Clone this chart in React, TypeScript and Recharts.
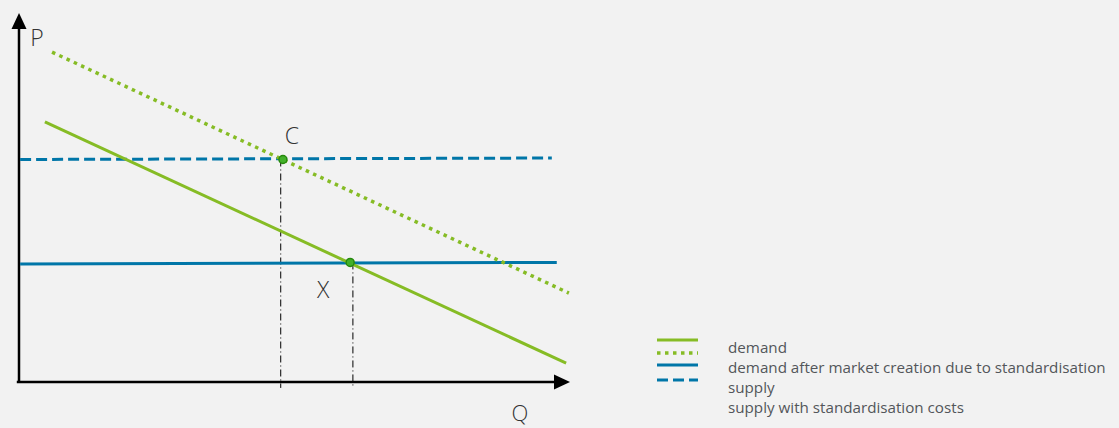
import React from "react";
import {
  ComposedChart,
  Line,
  XAxis,
  YAxis,
  ReferenceDot,
  ReferenceLine,
  Legend,
} from "recharts";

// Q runs 0..100 along the x axis, P runs 0..100 up the y axis
const demand = [
  { q: 4.7, p: 70.5 },
  { q: 99.3, p: 5.1 },
];
const demandAfter = [
  { q: 6.0, p: 89.4 },
  { q: 99.8, p: 24.1 },
];
const supply = [
  { q: 0.2, p: 32.0 },
  { q: 97.6, p: 32.4 },
];
const supplyCost = [
  { q: 0.2, p: 60.3 },
  { q: 96.7, p: 60.7 },
];

const pointC = { q: 47.9, p: 60.3 };
const pointX = { q: 60.1, p: 32.4 };
const dropC = { q: 47.5, from: 60.3, to: -1.6 };
const dropX = { q: 60.6, from: 32.4, to: -1.6 };

const seriesNames = [
  "demand",
  "demand after market creation due to standardisation",
  "supply",
  "supply with standardisation costs",
];

const GREEN = "#86bc25";
const BLUE = "#0076a8";
const FONT = "'Open Sans', 'Noto Sans', sans-serif";

const bigText = (text: string, dx: number, dy: number, size = 23) => (props: any) => {
  const vb = props.viewBox || {};
  const cx = vb.x + (vb.width || 0) / 2;
  const cy = vb.y + (vb.height || 0) / 2;
  return (
    <text
      x={cx + dx}
      y={cy + dy}
      textAnchor="middle"
      dominantBaseline="central"
      fontSize={size}
      fontWeight={300}
      fill="#333"
      fontFamily={FONT}
    >
      {text}
    </text>
  );
};

const upArrow = (props: any) => (
  <polygon
    points={`${props.cx},${props.cy} ${props.cx - 7.5},${props.cy + 16} ${props.cx + 7.5},${props.cy + 16}`}
    fill="#000"
  />
);

const rightArrow = (props: any) => (
  <polygon
    points={`${props.cx},${props.cy} ${props.cx - 16},${props.cy - 7.5} ${props.cx - 16},${props.cy + 7.5}`}
    fill="#000"
  />
);

const LegendBox = (props: any) => {
  const items = [...(props.payload || [])].sort(
    (a: any, b: any) => seriesNames.indexOf(a.value) - seriesNames.indexOf(b.value)
  );
  const iconY = [10, 23, 35, 50];
  return (
    <div style={{ position: "relative", width: 460, height: 90 }}>
      <svg width={45} height={60} style={{ position: "absolute", left: 0, top: 0 }}>
        {items.map((it: any, i: number) => (
          <line
            key={it.value}
            x1={0}
            x2={41}
            y1={iconY[i]}
            y2={iconY[i]}
            stroke={it.color}
            strokeWidth={it.payload?.strokeWidth ?? 3}
            strokeDasharray={it.payload?.strokeDasharray}
          />
        ))}
      </svg>
      <div
        style={{
          position: "absolute",
          left: 71,
          top: 7,
          fontFamily: FONT,
          fontSize: 15.2,
          lineHeight: "20px",
          color: "#53565a",
          whiteSpace: "nowrap",
        }}
      >
        {items.map((it: any) => (
          <div key={it.value}>{it.value}</div>
        ))}
      </div>
    </div>
  );
};

export default function App() {
  return (
    <div
      style={{
        position: "absolute",
        left: 0,
        top: 0,
        width: 1119,
        height: 428,
        background: "#f2f2f2",
      }}
    >
      <ComposedChart
        width={1119}
        height={428}
        margin={{ top: 13, right: 549, bottom: 46, left: 19 }}
      >
        <XAxis
          dataKey="q"
          type="number"
          domain={[0, 100]}
          height={0}
          tick={false}
          tickLine={false}
          axisLine={false}
          allowDataOverflow
        />
        <YAxis
          type="number"
          domain={[0, 100]}
          width={0}
          tick={false}
          tickLine={false}
          axisLine={false}
          allowDataOverflow
        />

        {/* axes */}
        <ReferenceLine
          segment={[
            { x: -0.4, y: 0 },
            { x: 98, y: 0 },
          ]}
          stroke="#000"
          strokeWidth={2.5}
          ifOverflow="visible"
        />
        <ReferenceLine
          segment={[
            { x: 0, y: -0.3 },
            { x: 0, y: 97 },
          ]}
          stroke="#000"
          strokeWidth={2.5}
          ifOverflow="visible"
        />

        <ReferenceLine
          segment={[
            { x: dropC.q, y: dropC.from },
            { x: dropC.q, y: dropC.to },
          ]}
          stroke="#000"
          strokeWidth={1}
          strokeDasharray="7 3 1 3"
          ifOverflow="visible"
        />
        <ReferenceLine
          segment={[
            { x: dropX.q, y: dropX.from },
            { x: dropX.q, y: dropX.to },
          ]}
          stroke="#000"
          strokeWidth={1}
          strokeDasharray="7 3 1 3"
          ifOverflow="visible"
        />

        <Line
          data={supply}
          dataKey="p"
          name={seriesNames[2]}
          type="linear"
          stroke={BLUE}
          strokeWidth={3}
          dot={false}
          activeDot={false}
          isAnimationActive={false}
        />
        <Line
          data={supplyCost}
          dataKey="p"
          name={seriesNames[3]}
          type="linear"
          stroke={BLUE}
          strokeWidth={3}
          strokeDasharray="11 5"
          dot={false}
          activeDot={false}
          isAnimationActive={false}
        />
        <Line
          data={demand}
          dataKey="p"
          name={seriesNames[0]}
          type="linear"
          stroke={GREEN}
          strokeWidth={3}
          dot={false}
          activeDot={false}
          isAnimationActive={false}
        />
        <Line
          data={demandAfter}
          dataKey="p"
          name={seriesNames[1]}
          type="linear"
          stroke={GREEN}
          strokeWidth={3.5}
          strokeDasharray="3.5 4.5"
          dot={false}
          activeDot={false}
          isAnimationActive={false}
        />

        <ReferenceDot
          x={pointC.q}
          y={pointC.p}
          r={4}
          fill="#43b02a"
          stroke="#26890d"
          strokeWidth={1.5}
          ifOverflow="visible"
          label={{ content: bigText("C", 9, -24.5) }}
        />
        <ReferenceDot
          x={pointX.q}
          y={pointX.p}
          r={4}
          fill="#43b02a"
          stroke="#26890d"
          strokeWidth={1.5}
          ifOverflow="visible"
          label={{ content: bigText("X", -27, 26.5) }}
        />

        <ReferenceDot
          x={0}
          y={100}
          r={1}
          ifOverflow="visible"
          shape={upArrow}
          label={{ content: bigText("P", 18, 24) }}
        />
        <ReferenceDot
          x={100}
          y={0}
          r={1}
          ifOverflow="visible"
          shape={rightArrow}
          label={{ content: bigText("Q", -50, 30, 22) }}
        />

        <Legend
          layout="vertical"
          align="center"
          verticalAlign="middle"
          content={LegendBox}
          wrapperStyle={{ left: 657, top: 330, width: 460, height: 90 }}
        />
      </ComposedChart>
    </div>
  );
}
